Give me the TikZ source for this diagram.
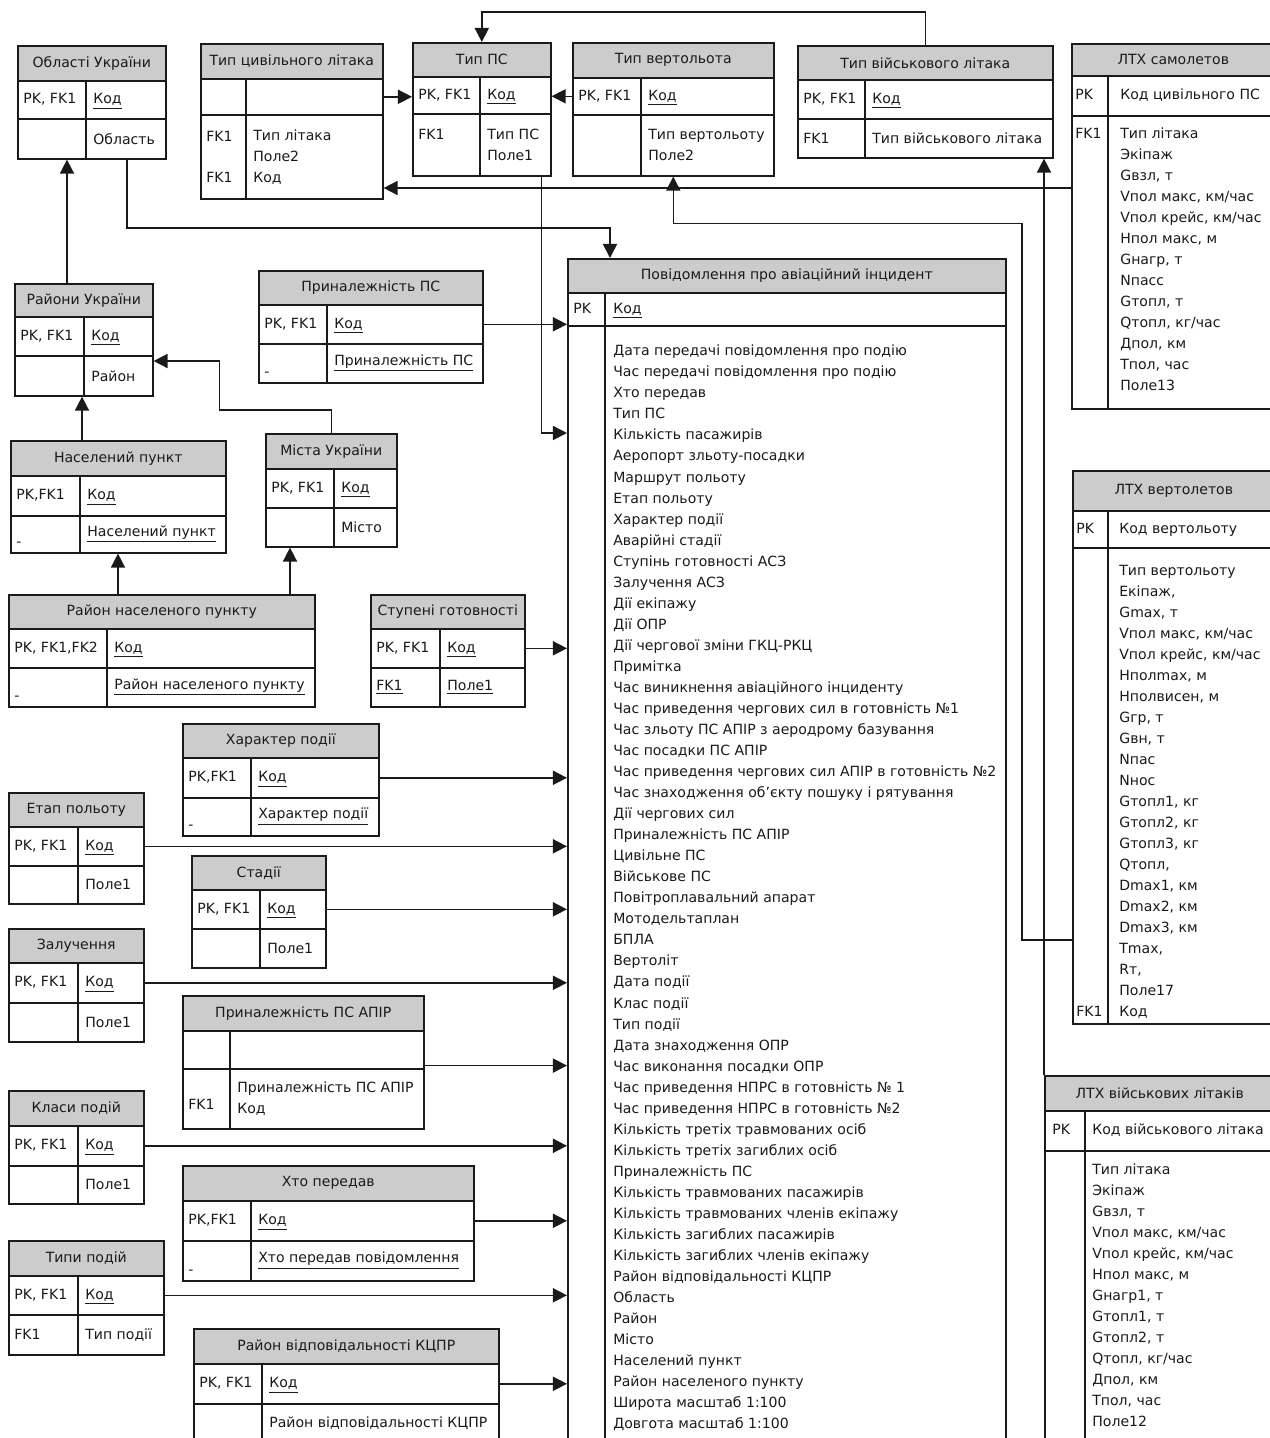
\documentclass[tikz,border=0pt]{standalone}
\usepackage{fontspec}
\setmainfont{DejaVu Sans}
\definecolor{hdrgray}{HTML}{CCCCCC}
\definecolor{ink}{HTML}{1A1A1A}
\usetikzlibrary{arrows.meta, calc}
\newcommand\erfont{\fontsize{8}{11.9}\selectfont}
\tikzset{
  hdr/.style={draw=ink, fill=hdrgray, line width=0.9pt, anchor=north west, inner sep=0pt, font=\erfont, text=ink},
  cell/.style={draw=ink, fill=white, line width=0.9pt, anchor=north west, inner sep=0pt},
  txt/.style={inner sep=0pt, font=\erfont, text height=6pt, text depth=1.7pt, text=ink},
  txtm/.style={inner sep=0pt, font=\erfont, align=left, text=ink},
  divl/.style={line width=0.9pt, draw=ink},
  fk/.style={-{Triangle[length=8pt,width=8pt]}, line width=0.9pt, draw=ink},
}
% name, left, right, top, title bottom, key bottom, bottom, divider, title
\newcommand\ertable[9]{%
  \node[hdr, minimum width={(#3-#2)*0.02cm}, minimum height={(#5-#4)*0.02cm}] (#1) at (#2,#4) {#9};
  \node[cell, minimum width={(#3-#2)*0.02cm}, minimum height={(#6-#5)*0.02cm}] (#1-k) at (#2,#5) {};
  \node[cell, minimum width={(#3-#2)*0.02cm}, minimum height={(#7-#6)*0.02cm}] (#1-a) at (#2,#6) {};
  \coordinate (#1-d) at (#8,#5);
  \draw[divl] (#1-d) -- (#8,#7);
}
\newcommand\erkey[3]{%
  \node[txt, anchor=west] (#1-pk) at ($(#1-k.west)+(6,0)$) {#2};
  \node[txt, anchor=west] (#1-kn) at ($(#1-d |- #1-k.west)+(7,0)$) {#3};
}
\newcommand\erval[3]{%
  \node[txtm, anchor=west] (#1-fk) at ($(#1-a.west)+(6,0)$) {#2};
  \node[txtm, anchor=west] (#1-at) at ($(#1-d |- #1-a.west)+(7,0)$) {#3};
}
\newcommand\erdash[1]{\node[txt, anchor=base west] (#1-dash) at ($(#1-a.south west)+(6,-7)$) {-};}

\begin{document}
\begin{tikzpicture}[x=0.02cm,y=-0.02cm]
\useasboundingbox (0,0) rectangle (1270,1438);
\clip (0,0) rectangle (1270,1438);

\ertable{obl}{17}{165}{45}{80}{118}{158}{86}{Області України}
\erkey{obl}{PK, FK1}{\underline{Код}}
\erval{obl}{}{Область}

\ertable{tciv}{200}{382}{43}{78}{114}{198}{246}{Тип цивільного літака}
\erkey{tciv}{}{}
\erval{tciv}{FK1\\ \mbox{}\\ FK1}{Тип літака\\ Поле2\\ Код}

\ertable{tps}{412}{550}{42}{76}{113}{175}{480}{Тип ПС}
\erkey{tps}{PK, FK1}{\underline{Код}}
\erval{tps}{FK1\\ \mbox{}}{Тип ПС\\ Поле1}

\ertable{tvert}{572}{773}{42}{77}{114}{175}{641}{Тип вертольота}
\erkey{tvert}{PK, FK1}{\underline{Код}}
\erval{tvert}{}{Тип вертольоту\\ Поле2}

\ertable{tvijs}{797}{1052}{45}{79}{118}{157}{865}{Тип військового літака}
\erkey{tvijs}{PK, FK1}{\underline{Код}}
\erval{tvijs}{FK1}{Тип військового літака}

\ertable{ltxs}{1071}{1274}{43}{75}{115}{408}{1108}{ЛТХ самолетов}
\node[txt, anchor=west] (ltxs-pk) at ($(ltxs-k.west)+(4,0)$) {PK};
\node[txt, anchor=west] (ltxs-kn) at ($(ltxs-d |- ltxs-k.west)+(12,0)$) {Код цивільного ПС};
\node[txt, anchor=west] (ltxs-fk) at ($(ltxs-a.north west)+(4,20)$) {FK1};
\foreach \t [count=\i from 0] in {Тип літака, Экіпаж, {Gвзл, т}, {Vпол макс, км/час},
    {Vпол крейс, км/час}, {Hпол макс, м}, {Gнагр, т}, Nпасс, {Gтопл, т}, {Qтопл, кг/час},
    {Дпол, км}, {Tпол, час}, Поле13}
  \node[txt, anchor=west] (ltxs-l\i) at ($(ltxs-d |- ltxs-a.north)+(12,20+21*\i)$) {\t};

\ertable{ltxv}{1072}{1274}{470}{510}{547}{1023}{1108}{ЛТХ вертолетов}
\node[txt, anchor=west] (ltxv-pk) at ($(ltxv-k.west)+(4,0)$) {PK};
\node[txt, anchor=west] (ltxv-kn) at ($(ltxv-d |- ltxv-k.west)+(11,0)$) {Код вертольоту};
\node[txt, anchor=west] (ltxv-fk) at ($(ltxv-a.north west)+(4,466)$) {FK1};
\foreach \t [count=\i from 0] in {Тип вертольоту, {Екіпаж,}, {Gmax, т}, {Vпол макс, км/час},
    {Vпол крейс, км/час}, {Hполmax, м}, {Hполвисен, м}, {Gгр, т}, {Gвн, т}, Nпас, Nнос,
    {Gтопл1, кг}, {Gтопл2, кг}, {Gтопл3, кг}, {Qтопл,}, {Dmax1, км}, {Dmax2, км},
    {Dmax3, км}, {Tmax,}, {Rт,}, Поле17, Код}
  \node[txt, anchor=west] (ltxv-l\i) at ($(ltxv-d |- ltxv-a.north)+(11,25+21*\i)$) {\t};

\ertable{ltxm}{1044}{1274}{1075}{1110}{1150}{1460}{1085}{ЛТХ військових літаків}
\node[txt, anchor=west] (ltxm-pk) at ($(ltxm-k.west)+(8,0)$) {PK};
\node[txt, anchor=west] (ltxm-kn) at ($(ltxm-d |- ltxm-k.west)+(7,0)$) {Код військового літака};
\foreach \t [count=\i from 0] in {Тип літака, Экіпаж, {Gвзл, т}, {Vпол макс, км/час},
    {Vпол крейс, км/час}, {Hпол макс, м}, {Gнагр1, т}, {Gтопл1, т}, {Gтопл2, т},
    {Qтопл, кг/час}, {Дпол, км}, {Tпол, час}, Поле12}
  \node[txt, anchor=west] (ltxm-l\i) at ($(ltxm-d |- ltxm-a.north)+(7,21+21*\i)$) {\t};

\ertable{msg}{567}{1005}{258}{292}{325}{1460}{605}{Повідомлення про авіаційний інцидент}
\node[txt, anchor=west] (msg-pk) at ($(msg-k.west)+(6,0)$) {PK};
\node[txt, anchor=west] (msg-kn) at ($(msg-d |- msg-k.west)+(8,0)$) {\underline{Код}};
\foreach \t [count=\i from 0] in {Дата передачі повідомлення про подію,
    Час передачі повідомлення про подію, Хто передав, Тип ПС, Кількість пасажирів,
    Аеропорт зльоту-посадки, Маршрут польоту, Етап польоту, Характер події,
    Аварійні стадії, Ступінь готовності АСЗ, Залучення АСЗ, Дії екіпажу, Дії ОПР,
    Дії чергової зміни ГКЦ-РКЦ, Примітка, Час виникнення авіаційного інциденту,
    Час приведення чергових сил в готовність №1, Час зльоту ПС АПІР з аеродрому базування,
    Час посадки ПС АПІР, Час приведення чергових сил АПІР в готовність №2,
    Час знаходження об’єкту пошуку і рятування, Дії чергових сил, Приналежність ПС АПІР,
    Цивільне ПС, Військове ПС, Повітроплавальний апарат, Мотодельтаплан, БПЛА, Вертоліт,
    Дата події, Клас події, Тип події, Дата знаходження ОПР, Час виконання посадки ОПР,
    Час приведення НПРС в готовність № 1, Час приведення НПРС в готовність №2,
    Кількість третіх травмованих осіб, Кількість третіх загиблих осіб, Приналежність ПС,
    Кількість травмованих пасажирів, Кількість травмованих членів екіпажу,
    Кількість загиблих пасажирів, Кількість загиблих членів екіпажу,
    Район відповідальності КЦПР, Область, Район, Місто, Населений пункт,
    Район населеного пункту, Широта масштаб 1:100, Довгота масштаб 1:100}
  \node[txt, anchor=west] (msg-l\i) at ($(msg-d |- msg-a.north)+(8,27+21.04*\i)$) {\t};

\ertable{rai}{14}{152}{283}{316}{355}{395}{84}{Райони України}
\erkey{rai}{PK, FK1}{\underline{Код}}
\erval{rai}{}{Район}

\ertable{nalps}{258}{482}{270}{304}{343}{382}{327}{Приналежність ПС}
\erkey{nalps}{PK, FK1}{\underline{Код}}
\erval{nalps}{}{\underline{Приналежність ПС}}
\erdash{nalps}

\ertable{npunkt}{10}{225}{440}{475}{515}{552}{80}{Населений пункт}
\erkey{npunkt}{PK,FK1}{\underline{Код}}
\erval{npunkt}{}{\underline{Населений пункт}}
\erdash{npunkt}

\ertable{mista}{265}{396}{433}{468}{507}{546}{334}{Міста України}
\erkey{mista}{PK, FK1}{\underline{Код}}
\erval{mista}{}{Місто}

\ertable{rnp}{8}{314}{594}{628}{667}{706}{107}{Район населеного пункту}
\erkey{rnp}{PK, FK1,FK2}{\underline{Код}}
\erval{rnp}{}{\underline{Район населеного пункту}}
\erdash{rnp}

\ertable{stup}{370}{524}{594}{628}{667}{706}{440}{Ступені готовності}
\erkey{stup}{PK, FK1}{\underline{Код}}
\erval{stup}{\underline{FK1}}{\underline{Поле1}}

\ertable{hpod}{182}{378}{723}{757}{797}{835}{251}{Характер події}
\erkey{hpod}{PK,FK1}{\underline{Код}}
\erval{hpod}{}{\underline{Характер події}}
\erdash{hpod}

\ertable{etap}{8}{143}{792}{826}{865}{903}{78}{Етап польоту}
\erkey{etap}{PK, FK1}{\underline{Код}}
\erval{etap}{}{Поле1}

\ertable{stad}{191}{325}{855}{889}{928}{967}{260}{Стадії}
\erkey{stad}{PK, FK1}{\underline{Код}}
\erval{stad}{}{Поле1}

\ertable{zal}{8}{143}{928}{962}{1002}{1041}{78}{Залучення}
\erkey{zal}{PK, FK1}{\underline{Код}}
\erval{zal}{}{Поле1}

\ertable{apir}{182}{423}{995}{1030}{1068}{1128}{230}{Приналежність ПС АПІР}
\erkey{apir}{}{}
\erval{apir}{\mbox{}\\ FK1}{Приналежність ПС АПІР\\ Код}

\ertable{klas}{8}{143}{1090}{1125}{1165}{1203}{78}{Класи подій}
\erkey{klas}{PK, FK1}{\underline{Код}}
\erval{klas}{}{Поле1}

\ertable{hto}{182}{473}{1165}{1200}{1240}{1280}{251}{Хто передав}
\erkey{hto}{PK,FK1}{\underline{Код}}
\erval{hto}{}{\underline{Хто передав повідомлення}}
\erdash{hto}

\ertable{typy}{8}{163}{1240}{1275}{1314}{1354}{78}{Типи подій}
\erkey{typy}{PK, FK1}{\underline{Код}}
\erval{typy}{FK1}{Тип події}

\ertable{kcpr}{193}{498}{1328}{1363}{1403}{1442}{262}{Район відповідальності КЦПР}
\erkey{kcpr}{PK, FK1}{\underline{Код}}
\erval{kcpr}{}{Район відповідальності КЦПР}

% links
\draw[fk] (tciv-k.east) -- (tciv-k.east -| tps-k.west);
\draw[fk] (tvert-k.west) -- (tvert-k.west -| tps-k.east);
\draw[fk] (tvijs.north) -- ++(0,-33) -| (tps.north);
\draw[fk] ($(ltxs-a.north west)+(0,73)$) coordinate (c1) -- (c1 -| tciv-a.east);
\draw[fk] ($(ltxv-a.north west)+(0,393)$) -- ++(-50,0) |- ($(tvert-a.south)+(0,47)$) -- (tvert-a.south);
\draw[fk] (ltxm.north west) -- (ltxm.north west |- tvijs-a.south);
\draw[fk] ($(tps-a.south east)+(-10,0)$) |- ($(msg-a.north west)+(0,108)$);
\draw[fk] ($(obl-a.south west)+(110,0)$) |- ($(msg.north west)+(43,-30)$) -- ($(msg.north west)+(43,0)$);
\draw[fk] ($(rai.north west)+(53,0)$) coordinate (c2) -- (c2 |- obl-a.south);
\draw[fk] ($(npunkt.north west)+(72,0)$) coordinate (c3) -- (c3 |- rai-a.south);
\draw[fk] (mista.north) -- ++(0,-23) -| ($(rai-a.north east)+(66,6)$) -- ($(rai-a.north east)+(0,6)$);
\draw[fk] ($(rnp.north west)+(110,0)$) coordinate (c4) -- (c4 |- npunkt-a.south);
\draw[fk] ($(rnp.north west)+(282,0)$) coordinate (c5) -- (c5 |- mista-a.south);
\foreach \e in {nalps, stup, hpod, etap, stad, zal, klas, hto, typy, kcpr}
  \draw[fk] (\e-k.east) -- (\e-k.east -| msg-a.west);
\draw[fk] ($(apir-k.south east)+(0,-4)$) coordinate (c6) -- (c6 -| msg-a.west);
\end{tikzpicture}
\end{document}
